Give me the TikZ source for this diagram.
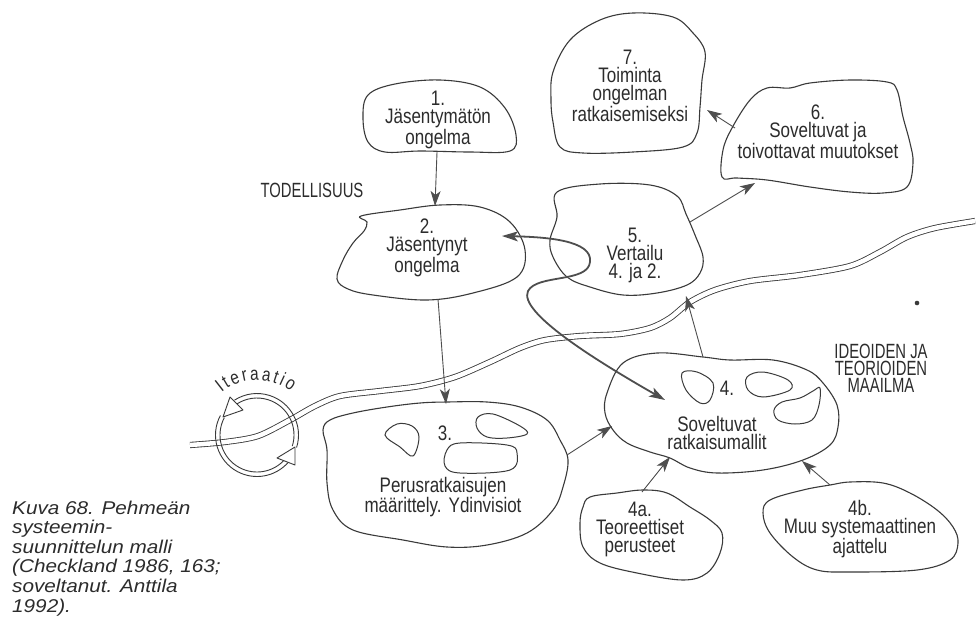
\documentclass[tikz,border=0pt]{standalone}
\usepackage{fontspec}
\setmainfont{Liberation Sans}
\newfontfamily\condf[FakeStretch=0.81]{Liberation Sans}
\newfontfamily\capsf[FakeStretch=0.72]{Liberation Sans}
\newfontfamily\captf[FakeStretch=1.12]{Liberation Sans}
\usetikzlibrary{arrows.meta,decorations.text}
\definecolor{ink}{HTML}{2C2C2C}
\definecolor{lineink}{HTML}{3A3A3A}
\definecolor{arrowink}{HTML}{4E4E4E}
\begin{document}
\begin{tikzpicture}[x=1pt,y=-1pt,
  blob/.style={draw=lineink, line width=1.1pt, fill=white},
  hole/.style={draw=lineink, line width=1pt},
  river/.style={draw=lineink, line width=0.85pt, double=white, double distance=4.5pt},
  conn/.style={draw=arrowink, line width=0.9pt, -{Stealth[length=15pt,width=10pt,inset=4pt]}},
  bigconn/.style={draw=arrowink, line width=1.8pt, {Stealth[length=16pt,width=10pt,inset=4pt]}-{Stealth[length=16pt,width=10pt,inset=4pt]}},
  lbl/.style={font=\condf\fontsize{21}{18}\selectfont, text=ink, align=center, inner sep=0pt},
  capslbl/.style={font=\capsf\fontsize{20.6}{17}\selectfont, text=ink, align=center, inner sep=0pt},
  capnote/.style={font=\captf\itshape\fontsize{18.5}{19.6}\selectfont, text=ink, align=left, inner sep=0pt, anchor=north west},
  ringline/.style={draw=lineink, line width=0.9pt},
  ringhead/.style={draw=lineink, line width=0.9pt, fill=white, line join=round}]
\fill[white] (0,0) rectangle (979,624);
\useasboundingbox (0,0) rectangle (979,624);

% river between the two worlds
\draw[river] plot[smooth, tension=0.5] coordinates {(190,445) (225,442) (258,436) (290,420) (315,406) (340,396) (380,391) (420,386) (455,377) (490,362) (520,348) (545,340) (580,336) (620,334) (650,328) (670,318) (690,302) (715,290) (750,281) (800,275) (850,266) (880,252) (907,237) (935,228) (975,221)};

% blobs
\draw[blob] plot[smooth cycle, tension=0.6] coordinates {(368,95) (395,84) (440,80) (480,87) (505,108) (516,135) (510,151) (470,152) (420,151) (385,152) (368,142) (363,118)};
\draw[blob] plot[smooth cycle, tension=0.6] coordinates {(361,216) (400,210) (440,205) (480,207) (510,222) (525,250) (517,277) (473,293) (427,300) (373,295) (348,289) (337,279) (343,260) (353,243) (364,231) (367,222)};
\draw[blob] plot[smooth cycle, tension=0.6] coordinates {(330,420) (353,413) (387,407) (420,403) (447,402) (487,402) (520,407) (547,420) (560,440) (568,460) (563,487) (553,510) (527,533) (487,545) (447,547) (403,540) (353,530) (333,510) (327,483) (327,450) (323,430)};
\draw[blob] plot[smooth cycle, tension=0.6] coordinates {(607,393) (623,363) (657,353) (703,357) (730,360) (773,360) (807,370) (823,383) (837,405) (838,427) (830,445) (803,460) (763,470) (717,473) (690,468) (670,458) (650,452) (627,443) (613,430) (605,413)};
\draw[blob] plot[smooth cycle, tension=0.6] coordinates {(557,192) (600,184) (650,185) (677,196) (686,214) (695,235) (703,257) (700,273) (687,285) (657,293) (623,295) (590,287) (567,277) (553,257) (550,240) (557,217)};
\draw[blob] plot[smooth cycle, tension=0.6] coordinates {(722,177) (723,150) (732,128) (750,100) (767,88) (790,88) (810,83) (850,80) (887,82) (897,90) (903,117) (910,143) (913,163) (907,187) (883,193) (850,192) (810,187) (767,180) (737,178)};
\draw[blob] plot[smooth cycle, tension=0.6] coordinates {(570,40) (600,20) (633,13) (673,17) (693,33) (705,52) (702,80) (700,107) (697,133) (683,147) (633,152) (583,153) (560,147) (553,122) (551,100) (553,72)};
\draw[blob] plot[smooth cycle, tension=0.6] coordinates {(590,497) (617,493) (643,490) (667,493) (690,507) (710,520) (722,533) (720,553) (707,573) (683,580) (637,573) (600,563) (583,547) (580,523) (583,507)};
\draw[blob] plot[smooth cycle, tension=0.6] coordinates {(770,500) (803,490) (830,485) (850,482) (883,483) (910,493) (937,510) (953,527) (958,543) (950,560) (917,570) (850,572) (817,570) (793,557) (770,533) (763,513)};

% shapes inside 3
\draw[hole] plot[smooth cycle, tension=0.6] coordinates {(385,435) (397,424) (412,426) (419,437) (413,456) (400,447)};
\draw[hole] plot[smooth cycle, tension=0.6] coordinates {(478,417) (493,414) (520,426) (527,434) (507,438) (487,437) (477,428)};
\draw[hole] plot[smooth cycle, tension=0.6] coordinates {(447,450) (460,443) (507,445) (517,453) (510,470) (460,473) (445,466)};
% shapes inside 4
\draw[hole] plot[smooth cycle, tension=0.6] coordinates {(682,373) (697,372) (713,383) (710,400) (700,403) (686,390)};
\draw[hole] plot[smooth cycle, tension=0.6] coordinates {(747,377) (763,372) (788,380) (790,390) (763,397) (748,390)};
\draw[hole] plot[smooth cycle, tension=0.6] coordinates {(820,388) (819,405) (812,420) (795,424) (778,420) (774,410) (782,402) (800,398) (813,391)};

% texts
\node[lbl] (t1) at (438,120) {1.\\Jäsentymätön\\ongelma};
\node[lbl] (t2) at (427,248) {2.\\Jäsentynyt\\ongelma};
\node[lbl] (t3n) at (445,433) {3.};
\node[lbl] (t3) at (443,497) {Perusratkaisujen\\määrittely.\hspace{7pt}Ydinvisiot};
\node[lbl] (t4n) at (727,388) {4.};
\node[lbl] (t4) at (717,433) {Soveltuvat\\ratkaisumallit};
\node[lbl] (t5) at (635,255) {5.\\Vertailu\\4. ja 2.};
\node[lbl] (t6) at (818,132) {6.\\Soveltuvat ja\\toivottavat muutokset};
\node[lbl] (t7) at (630,86) {7.\\Toiminta\\ongelman\\ratkaisemiseksi};
\node[lbl] (t4a) at (640,529) {4a.\\Teoreettiset\\perusteet};
\node[lbl] (t4b) at (860,529) {4b.\\Muu systemaattinen\\ajattelu};
\node[capslbl] (real) at (312,190) {TODELLISUUS};
\node[capslbl] (ideas) at (881,368) {IDEOIDEN JA\\TEORIOIDEN\\MAAILMA};
\node[capnote] (caption) at (12,500.5) {Kuva 68. Pehmeän\\systeemin-\\suunnittelun malli\\(Checkland 1986, 163;\\soveltanut. Anttila\\1992).};

% connector end points on the blob outlines
\coordinate (b1bot) at (437,152);
\coordinate (b2top) at (435,206);
\coordinate (b2bot) at (438,299);
\coordinate (b3top) at (446,404);
\coordinate (b3right) at (567,455);
\coordinate (b4left) at (612,426);
\coordinate (b4top) at (703,357);
\coordinate (b5bot) at (686,296);
\coordinate (b5right) at (690,222);
\coordinate (b6left) at (755,183);
\coordinate (b6side) at (735,128);
\coordinate (b7right) at (707,110);
\coordinate (b4atop) at (642,492);
\coordinate (b4bota) at (670,457);
\coordinate (b4btop) at (830,485);
\coordinate (b4botb) at (802,461);
\coordinate (b2in) at (502,236);
\coordinate (b4in) at (665,400);

\draw[conn] (b1bot) -- (b2top);
\draw[conn] (b2bot) -- (b3top);
\draw[conn] (b3right) -- (b4left);
\draw[conn] (b4top) -- (b5bot);
\draw[conn] (b5right) -- (b6left);
\draw[conn] (b6side) -- (b7right);
\draw[conn] (b4atop) -- (b4bota);
\draw[conn] (b4btop) -- (b4botb);
\draw[bigconn] (b2in) .. controls (545,237) and (593,240) .. (590,262)
  .. controls (588,283) and (537,274) .. (528,291)
  .. controls (518,312) and (595,360) .. (b4in);

% iteration ring
\coordinate (ringc) at (257,435);
\draw[ringline] (ringc) ++(17.5:37) arc[start angle=17.5, end angle=-122.8, radius=37];
\draw[ringline] (ringc) ++(17.5:41.5) arc[start angle=17.5, end angle=-122.8, radius=41.5];
\draw[ringline] (ringc) ++(-152:37) arc[start angle=-152, end angle=-318.1, radius=37];
\draw[ringline] (ringc) ++(-152:41.5) arc[start angle=-152, end angle=-318.1, radius=41.5];
\draw[ringhead] (230,397) -- (243,410) -- (223,417) -- cycle;
\draw[ringhead] (277,458) -- (295,465) -- (295,447) -- cycle;
{\condf\fontsize{19}{19}\selectfont
\path[decorate, decoration={text along path, text={Iteraatio}, text color=ink, text align=fit to path}] (ringc) ++(-130:55) arc[start angle=-130, end angle=-52, radius=55];
}

% dot
\fill[lineink] (917,303) circle[radius=2.3];
\end{tikzpicture}
\end{document}
